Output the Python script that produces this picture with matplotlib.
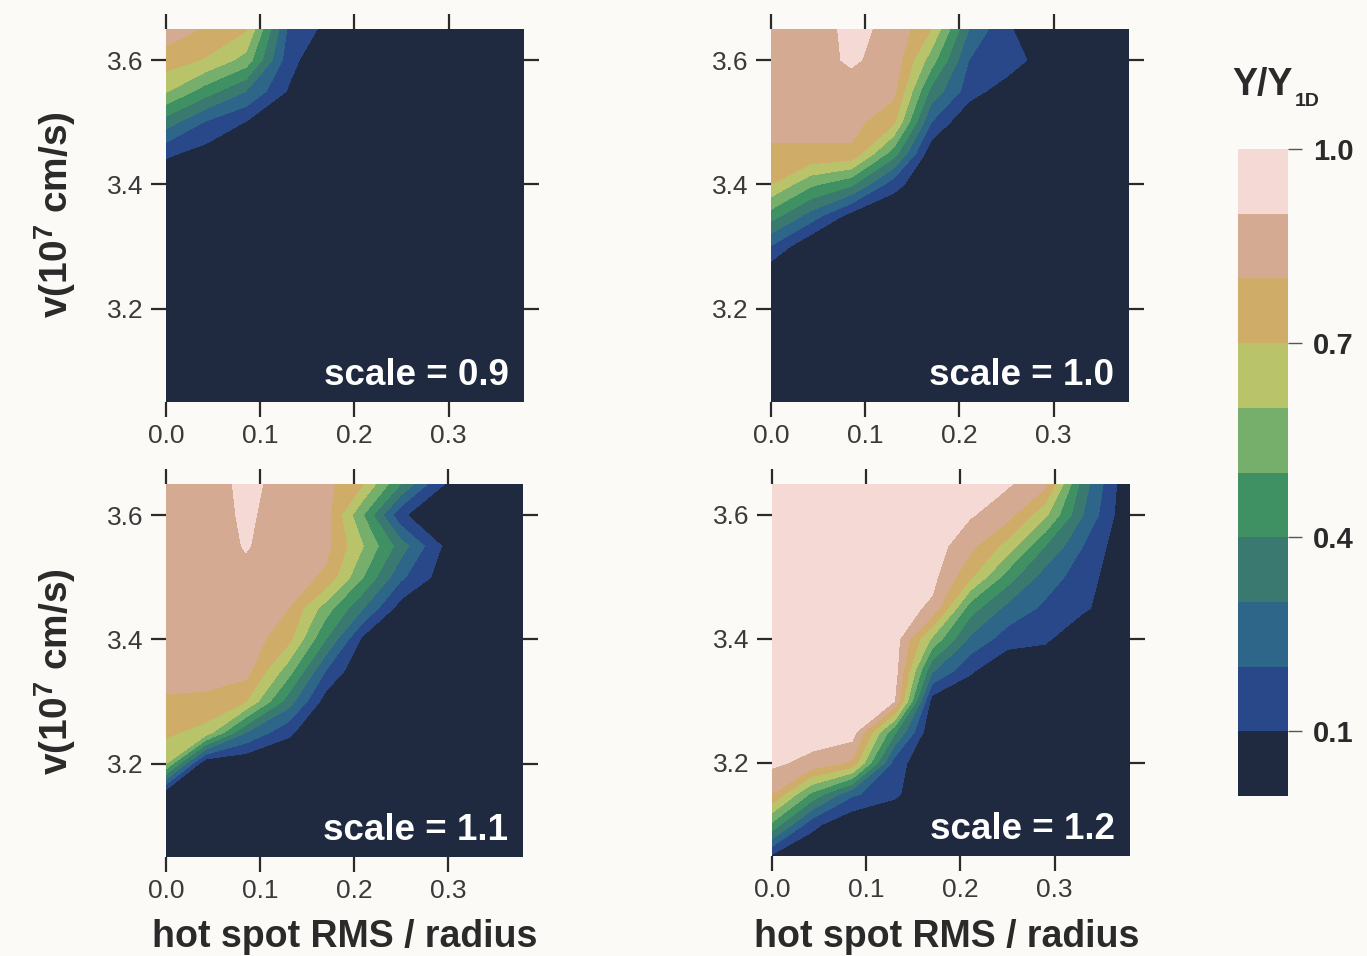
import numpy as np
import matplotlib
matplotlib.use("Agg")
import matplotlib.pyplot as plt

plt.rcParams['font.family'] = ['Liberation Sans', 'DejaVu Sans']
plt.rcParams['mathtext.fontset'] = 'custom'
plt.rcParams['mathtext.rm'] = 'Liberation Sans'
plt.rcParams['mathtext.bf'] = 'Liberation Sans:bold'

# ---------------- data ----------------
xs = [0.0, 0.042, 0.085, 0.13, 0.17, 0.21, 0.25, 0.29, 0.33, 0.38]
vs = [3.05, 3.10, 3.15, 3.20, 3.25, 3.30, 3.35, 3.40, 3.45, 3.50, 3.55, 3.60, 3.65]

# rows follow vs (bottom to top), columns follow xs
z_scale09 = [
    [0.00, 0.00, 0.00, 0.00, 0.00, 0, 0, 0, 0, 0],
    [0.00, 0.00, 0.00, 0.00, 0.00, 0, 0, 0, 0, 0],
    [0.00, 0.00, 0.00, 0.00, 0.00, 0, 0, 0, 0, 0],
    [0.00, 0.00, 0.00, 0.00, 0.00, 0, 0, 0, 0, 0],
    [0.00, 0.00, 0.00, 0.00, 0.00, 0, 0, 0, 0, 0],
    [0.00, 0.00, 0.00, 0.00, 0.00, 0, 0, 0, 0, 0],
    [0.00, 0.00, 0.00, 0.00, 0.00, 0, 0, 0, 0, 0],
    [0.00, 0.00, 0.00, 0.00, 0.00, 0, 0, 0, 0, 0],
    [0.12, 0.06, 0.00, 0.00, 0.00, 0, 0, 0, 0, 0],
    [0.35, 0.19, 0.095, 0.00, 0.00, 0, 0, 0, 0, 0],
    [0.61, 0.45, 0.30, 0.09, 0.00, 0, 0, 0, 0, 0],
    [0.75, 0.69, 0.56, 0.14, 0.00, 0, 0, 0, 0, 0],
    [0.86, 0.79, 0.71, 0.18, 0.075, 0, 0, 0, 0, 0],
]

z_scale10 = [
    [0.00, 0.00, 0.00, 0.00, 0.00, 0.00, 0.00, 0.00, 0, 0],
    [0.00, 0.00, 0.00, 0.00, 0.00, 0.00, 0.00, 0.00, 0, 0],
    [0.00, 0.00, 0.00, 0.00, 0.00, 0.00, 0.00, 0.00, 0, 0],
    [0.00, 0.00, 0.00, 0.00, 0.00, 0.00, 0.00, 0.00, 0, 0],
    [0.00, 0.00, 0.00, 0.00, 0.00, 0.00, 0.00, 0.00, 0, 0],
    [0.19, 0.00, 0.00, 0.00, 0.00, 0.00, 0.00, 0.00, 0, 0],
    [0.45, 0.26, 0.06, 0.00, 0.00, 0.00, 0.00, 0.00, 0, 0],
    [0.70, 0.52, 0.42, 0.14, 0.00, 0.00, 0.00, 0.00, 0, 0],
    [0.79, 0.79, 0.78, 0.45, 0.03, 0.00, 0.00, 0.00, 0, 0],
    [0.82, 0.82, 0.84, 0.72, 0.20, 0.00, 0.00, 0.00, 0, 0],
    [0.84, 0.84, 0.87, 0.83, 0.37, 0.15, 0.04, 0.00, 0, 0],
    [0.85, 0.87, 0.91, 0.87, 0.55, 0.20, 0.17, 0.04, 0, 0],
    [0.85, 0.86, 0.92, 0.88, 0.70, 0.30, 0.11, 0.05, 0, 0],
]

z_scale11 = [
    [0.00, 0.00, 0.00, 0.00, 0.00, 0.00, 0.00, 0.00, 0, 0],
    [0.00, 0.00, 0.00, 0.00, 0.00, 0.00, 0.00, 0.00, 0, 0],
    [0.00, 0.00, 0.00, 0.00, 0.00, 0.00, 0.00, 0.00, 0, 0],
    [0.60, 0.00, 0.00, 0.00, 0.00, 0.00, 0.00, 0.00, 0, 0],
    [0.72, 0.66, 0.30, 0.12, 0.00, 0.00, 0.00, 0.00, 0, 0],
    [0.79, 0.78, 0.70, 0.35, 0.05, 0.00, 0.00, 0.00, 0, 0],
    [0.83, 0.84, 0.84, 0.55, 0.20, 0.00, 0.00, 0.00, 0, 0],
    [0.85, 0.86, 0.86, 0.73, 0.40, 0.07, 0.00, 0.00, 0, 0],
    [0.86, 0.86, 0.87, 0.80, 0.55, 0.30, 0.05, 0.00, 0, 0],
    [0.86, 0.86, 0.88, 0.85, 0.78, 0.50, 0.22, 0.07, 0, 0],
    [0.86, 0.86, 0.905, 0.86, 0.83, 0.60, 0.35, 0.11, 0, 0],
    [0.87, 0.87, 0.91, 0.87, 0.84, 0.50, 0.12, 0.00, 0, 0],
    [0.87, 0.86, 0.92, 0.87, 0.83, 0.70, 0.40, 0.12, 0, 0],
]

z_scale12 = [
    [0.08, 0.00, 0.00, 0.00, 0.00, 0.00, 0.00, 0.00, 0.00, 0],
    [0.47, 0.13, 0.00, 0.00, 0.00, 0.00, 0.00, 0.00, 0.00, 0],
    [0.80, 0.48, 0.22, 0.12, 0.00, 0.00, 0.00, 0.00, 0.00, 0],
    [0.92, 0.87, 0.78, 0.15, 0.00, 0.00, 0.00, 0.00, 0.00, 0],
    [0.95, 0.95, 0.95, 0.42, 0.00, 0.00, 0.00, 0.00, 0.00, 0],
    [0.95, 0.95, 0.95, 0.90, 0.05, 0.00, 0.00, 0.00, 0.00, 0],
    [0.95, 0.95, 0.95, 0.95, 0.32, 0.12, 0.00, 0.00, 0.00, 0],
    [0.95, 0.95, 0.95, 0.95, 0.58, 0.28, 0.15, 0.12, 0.00, 0],
    [0.95, 0.95, 0.95, 0.95, 0.88, 0.45, 0.27, 0.18, 0.12, 0],
    [0.95, 0.95, 0.95, 0.95, 0.93, 0.72, 0.45, 0.25, 0.15, 0],
    [0.95, 0.95, 0.95, 0.95, 0.95, 0.83, 0.66, 0.40, 0.20, 0],
    [0.95, 0.95, 0.95, 0.95, 0.95, 0.91, 0.84, 0.62, 0.30, 0],
    [0.95, 0.95, 0.95, 0.95, 0.95, 0.95, 0.91, 0.83, 0.35, 0],
]

panel_data = [z_scale09, z_scale10, z_scale11, z_scale12]
panel_labels = ["scale = 0.9", "scale = 1.0", "scale = 1.1", "scale = 1.2"]
levels = [0.0, 0.1, 0.2, 0.3, 0.4, 0.5, 0.6, 0.7, 0.8, 0.9, 1.0]
band_colors = ['#1f2a40', '#28488a', '#2d6688', '#39796f', '#3f9163',
               '#76ae6c', '#b9c46a', '#cfac68', '#d5aa93', '#f4d9d4']
xtick_vals = [0.0, 0.1, 0.2, 0.3]
ytick_vals = [3.2, 3.4, 3.6]
cbar_ticks = [0.1, 0.4, 0.7, 1.0]

# ---------------- figure ----------------
W, H = 1367, 956
bg = '#fbfaf6'
fig = plt.figure(figsize=(W / 100, H / 100), dpi=100, facecolor=bg)

boxes = [(166, 29, 524, 402), (771, 29, 1129, 402),
         (166, 484, 523, 857), (772, 484, 1130, 856)]

cs = None
for i, (l, t, r, b) in enumerate(boxes):
    ax = fig.add_axes([l / W, 1 - b / H, (r - l) / W, (b - t) / H])
    Z = np.array(panel_data[i])
    cs = ax.contourf(xs, vs, Z, levels=levels, colors=band_colors, antialiased=False)
    ax.set_xlim(0, 0.38)
    ax.set_ylim(3.05, 3.65)
    ax.set_xticks(xtick_vals)
    ax.set_xticklabels(["%.1f" % v for v in xtick_vals])
    ax.set_yticks(ytick_vals)
    ax.set_yticklabels(["%.1f" % v for v in ytick_vals])
    ax.tick_params(direction='out', length=11, width=1.6, color='#2a2a2a',
                   top=True, right=True, labeltop=False, labelright=False,
                   labelsize=19, labelcolor='#3a3a3a')
    ax.tick_params(axis='x', pad=5)
    ax.tick_params(axis='y', pad=5)
    for s in ax.spines.values():
        s.set_visible(False)
    ax.text(0.958, 0.045, panel_labels[i], transform=ax.transAxes,
            ha='right', va='baseline', color='white', fontsize=26.5,
            fontweight='bold')

# axis labels
for yc in (215, 672):
    fig.text(55 / W, 1 - yc / H, r'v(10$^{\mathbf{7}}$ cm/s)', rotation=90,
             ha='center', va='center', fontsize=28, fontweight='bold',
             color='#2a2a2a')
for xc in (345, 947):
    fig.text(xc / W, 1 - 937 / H, 'hot spot RMS / radius', ha='center',
             va='center', fontsize=27, fontweight='bold', color='#2a2a2a')

# colorbar
cax = fig.add_axes([1238 / W, 1 - 796 / H, 50 / W, 647 / H])
cb = fig.colorbar(cs, cax=cax, ticks=cbar_ticks)
cb.outline.set_visible(False)
cb.set_ticklabels(["%.1f" % v for v in cbar_ticks])
cax.tick_params(length=10, width=1.0, color='#555555', labelsize=21, pad=8,
                labelcolor='#2a2a2a')
for tl in cax.get_yticklabels():
    tl.set_fontweight('bold')

fig.text(1232 / W, 1 - 95 / H, 'Y/Y', ha='left', va='baseline', fontsize=27,
         fontweight='bold', color='#2a2a2a')
fig.text(1295 / W, 1 - 106 / H, '1D', ha='left', va='baseline', fontsize=14,
         fontweight='bold', color='#2a2a2a')

fig.savefig('out.png', dpi=100, facecolor=bg)
